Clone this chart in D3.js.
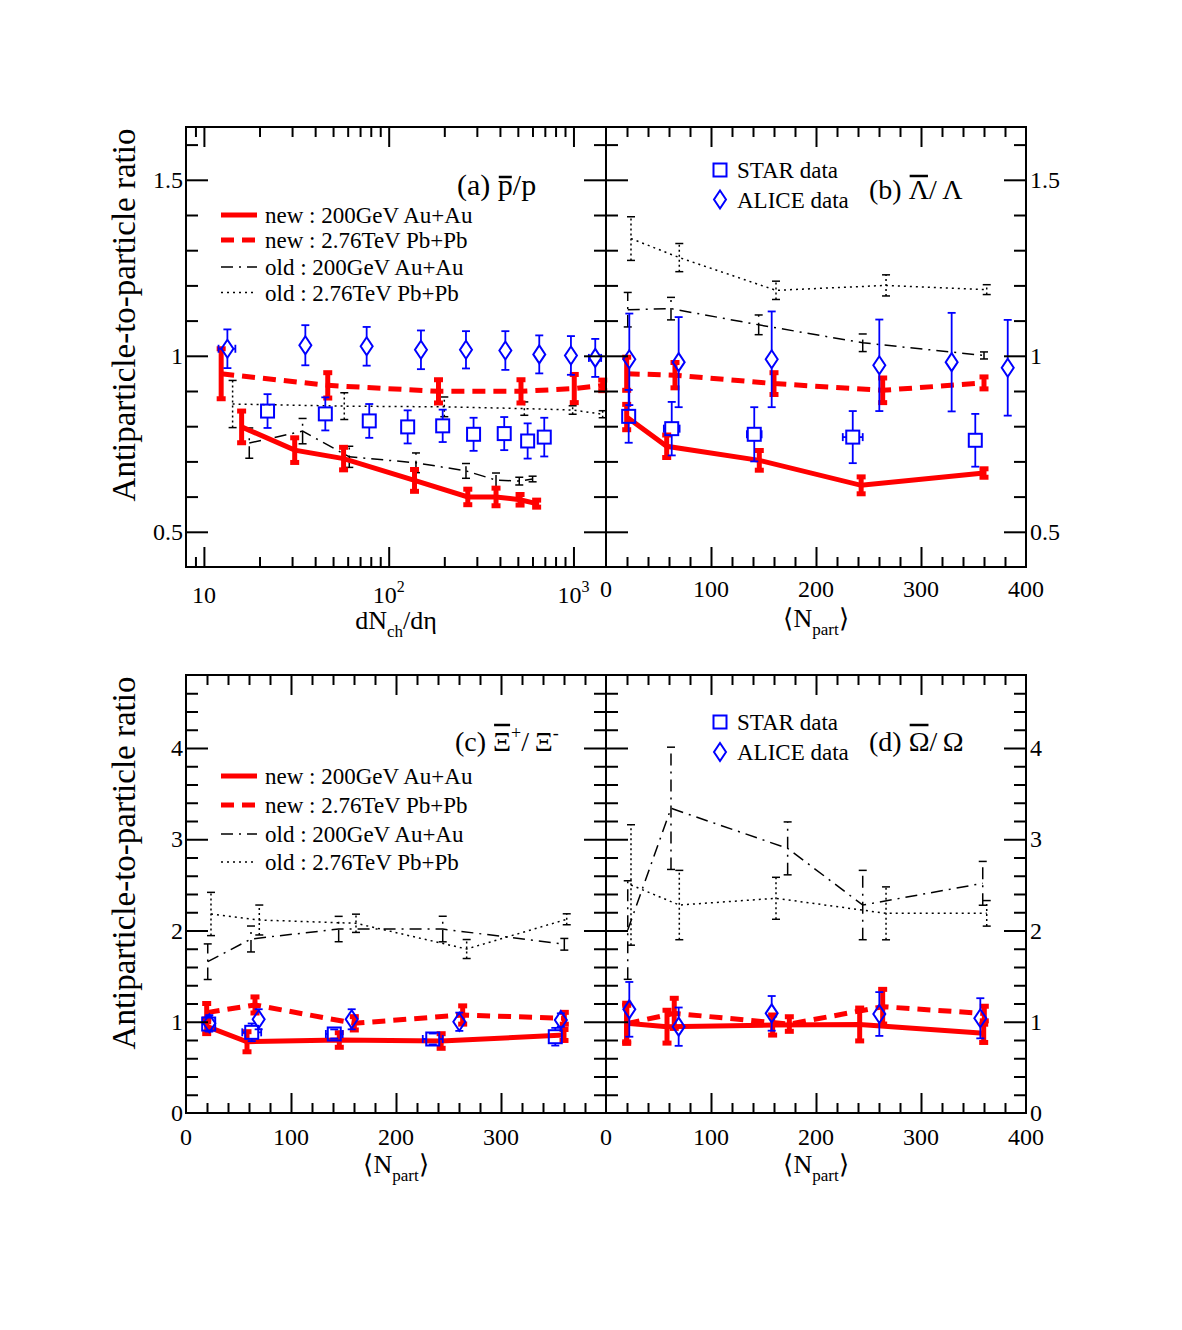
<!DOCTYPE html>
<html>
<head>
<meta charset="utf-8">
<script src="https://cdn.jsdelivr.net/npm/d3@7"></script>
<style>
  body { margin: 0; background: #fff; }
  svg text { font-family: "Liberation Serif", "Times New Roman", serif; fill: #000; }
</style>
</head>
<body>
<svg id="fig" width="1182" height="1330"></svg>
<script>
// each point: [x, ratio, ratio error, (optional) x error]

// (a) pbar/p vs dNch/deta
const aNew200 = [[16,0.798,0.045],[31,0.732,0.035],[57,0.708,0.032],[138,0.646,0.031],[268,0.599,0.022],[381,0.599,0.025],[514,0.591,0.015],[632,0.580,0.010]];
const aNew276 = [[12.4,0.949,0.071],[46.8,0.916,0.036],[186,0.899,0.033],[520,0.899,0.033],[1010,0.907,0.040],[1440,0.916,0.015]];
const aOld200 = [[17.6,0.752,0.043],[34.2,0.786,0.036],[61.2,0.713,0.030],[140.5,0.696,0.028],[262,0.673,0.021],[381,0.647,0.020],[509,0.644,0.011],[601,0.650,0.008]];
const aOld276 = [[14.3,0.863,0.067],[57.5,0.857,0.038],[200,0.855,0.028],[542,0.850,0.019],[990,0.846,0.012],[1439,0.834,0.010]];
const aStar   = [[22.1,0.843,0.048],[45.4,0.835,0.047],[78.5,0.815,0.048],[126.7,0.798,0.047],[196,0.801,0.046],[288,0.777,0.047],[422,0.779,0.047],[565,0.758,0.050],[695,0.769,0.055]];
const aAlice  = [[13.4,1.020,0.055,1.4],[35.4,1.030,0.057],[76,1.027,0.055],[149.5,1.017,0.055],[262,1.017,0.053],[428,1.015,0.055],[653,1.004,0.054],[969,1.001,0.055],[1312,0.994,0.054,100]];

// (b) Lambdabar/Lambda vs Npart
const bNew200 = [[19.7,0.826,0.036],[57.8,0.743,0.032],[146,0.703,0.028],[243,0.632,0.024],[360,0.667,0.012]];
const bNew276 = [[19.7,0.949,0.047],[65.7,0.945,0.036],[160,0.921,0.031],[263.5,0.902,0.035],[360,0.923,0.017]];
const bOld200 = [[20.7,1.131,0.049],[61.9,1.134,0.032],[145.4,1.088,0.028],[244.5,1.037,0.025],[360,1.001,0.010]];
const bOld276 = [[23.8,1.333,0.062],[69.8,1.279,0.040],[161.9,1.186,0.026],[266.7,1.200,0.030],[362.6,1.188,0.014]];
const bStar   = [[21.6,0.828,0.075],[62.6,0.793,0.076,7.5],[141.2,0.777,0.077,7],[235,0.769,0.074,9.5],[351.7,0.760,0.075]];
const bAlice  = [[22.2,0.990,0.130],[69.2,0.982,0.128],[157.8,0.990,0.136],[260.3,0.973,0.130],[329.2,0.982,0.140],[382.6,0.966,0.136]];

// (c) Xibar+/Xi- vs Npart
const cNew200 = [[19.7,0.950,0.080],[58.1,0.781,0.110],[146,0.800,0.080],[243,0.789,0.080],[360,0.855,0.060]];
const cNew276 = [[19.7,1.100,0.100],[65.7,1.184,0.088],[160.3,0.983,0.073],[263.5,1.074,0.100],[360.3,1.038,0.065]];
const cOld200 = [[20.7,1.658,0.195],[61.9,1.907,0.142],[145.4,2.016,0.139],[244.5,2.016,0.140],[360.3,1.849,0.064]];
const cOld276 = [[23.8,2.181,0.237],[69.8,2.115,0.164],[161.9,2.079,0.100],[267.3,1.797,0.104],[362.6,2.123,0.060]];
const cStar   = [[21.6,0.975,0.080],[62.6,0.884,0.097,9],[141.2,0.866,0.050,8],[235,0.811,0.060,9.5],[351.7,0.836,0.097]];
const cAlice  = [[22.2,0.983,0.090],[69.2,1.027,0.110],[157.8,1.027,0.110],[260.3,1.000,0.100],[357,1.019,0.073]];

// (d) Omegabar/Omega vs Npart
const dNew200 = [[19.7,0.983,0.220],[58.1,0.946,0.180],[158.7,0.964,0.110],[241.6,0.970,0.180],[359.7,0.873,0.100]];
const dNew276 = [[19.7,0.980,0.200],[65,1.092,0.165],[174.6,0.975,0.080],[263.5,1.165,0.190],[360.3,1.090,0.080]];
const dOld200 = [[20.7,2.005,0.540],[61.9,3.339,0.670],[173,2.900,0.290],[244.5,2.279,0.380],[358.8,2.517,0.240]];
const dOld276 = [[23.8,2.499,0.660],[69.8,2.279,0.380],[161.9,2.353,0.230],[266.7,2.188,0.290],[362.6,2.188,0.140]];
const dAlice  = [[22.2,1.136,0.300],[69.2,0.946,0.210],[157.8,1.092,0.190],[260.3,1.085,0.240],[356.5,1.038,0.220]];

const legendLines = ['new : 200GeV Au+Au', 'new : 2.76TeV Pb+Pb', 'old : 200GeV Au+Au', 'old : 2.76TeV Pb+Pb'];
const legendData  = ['STAR data', 'ALICE data'];

const svg = d3.select('#fig');
svg.append('rect').attr('width', 1182).attr('height', 1330).attr('fill', '#fff');

const L = 186, M = 606, R = 1026;
const T1 = 127, B1 = 567, T2 = 675, B2 = 1113;

const xLog = d3.scaleLog().domain([8, 1500]).range([L, M]);
const xB = d3.scaleLinear().domain([0, 400]).range([M, R]);
const xC = d3.scaleLinear().domain([0, 400]).range([L, M]);
const xD = d3.scaleLinear().domain([0, 400]).range([M, R]);
const yTop = d3.scaleLinear().domain([0.4, 1.65]).range([B1, T1]);
const yBot = d3.scaleLinear().domain([0, 4.8]).range([B2, T2]);

const RED = '#ff0000', BLUE = '#0000ff';
const STYLES = {
  new200: { color: RED, width: 5, dash: null, ew: 5, cap: 4.5, edash: null },
  new276: { color: RED, width: 5, dash: '13,8', ew: 5, cap: 4.5, edash: null },
  old200: { color: '#000', width: 1.5, dash: '12,6,2,6', ew: 1.5, cap: 4, edash: '12,6,2,6' },
  old276: { color: '#000', width: 1.5, dash: '2,4', ew: 1.5, cap: 4, edash: '2,3' }
};

// ---------- axes ----------
function range(a, b, s) { const out = []; for (let v = a; v <= b + 1e-9; v += s) out.push(+v.toFixed(6)); return out; }

function tickSet(g, axisFn, scale, vals, size, tr) {
  g.append('g').attr('transform', tr)
    .call(axisFn(scale).tickValues(vals).tickSize(-size).tickFormat(''))
    .call(s => s.select('.domain').remove())
    .call(s => s.selectAll('line').attr('stroke', '#000').attr('stroke-width', 2));
}

function frame(x, y, x0, x1, y0, y1, xMaj, xMin, yMaj, yMin) {
  const g = svg.append('g');
  [[d3.axisBottom, `translate(0,${y1})`], [d3.axisTop, `translate(0,${y0})`]].forEach(([fn, tr]) => {
    tickSet(g, fn, x, xMaj, 20, tr);
    tickSet(g, fn, x, xMin, 10, tr);
  });
  [[d3.axisLeft, `translate(${x0},0)`], [d3.axisRight, `translate(${x1},0)`]].forEach(([fn, tr]) => {
    tickSet(g, fn, y, yMaj, 22, tr);
    tickSet(g, fn, y, yMin, 12, tr);
  });
  g.append('rect').attr('x', x0).attr('y', y0).attr('width', x1 - x0).attr('height', y1 - y0)
    .attr('fill', 'none').attr('stroke', '#000').attr('stroke-width', 2);
}

const logMinor = [9, ...range(20, 90, 10), ...range(200, 900, 100)];
const nMinor = range(20, 380, 20).filter(v => v % 100 !== 0);
const yTopMinor = [0.6, 0.7, 0.8, 0.9, 1.1, 1.2, 1.3, 1.4, 1.6];
const yBotMinor = range(0.2, 4.6, 0.2).filter(v => Math.abs(v - Math.round(v)) > 1e-6);

// ---------- series ----------
function drawSeries(g, data, x, y, st) {
  g.append('path').datum(data)
    .attr('d', d3.line().x(d => x(d[0])).y(d => y(d[1])))
    .attr('fill', 'none').attr('stroke', st.color).attr('stroke-width', st.width)
    .attr('stroke-dasharray', st.dash);
  data.forEach(d => {
    const px = x(d[0]), lo = y(d[1] - d[2]), hi = y(d[1] + d[2]);
    g.append('line').attr('x1', px).attr('x2', px).attr('y1', lo).attr('y2', hi)
      .attr('stroke', st.color).attr('stroke-width', st.ew).attr('stroke-dasharray', st.edash);
    [lo, hi].forEach(yy => g.append('line')
      .attr('x1', px - st.cap).attr('x2', px + st.cap).attr('y1', yy).attr('y2', yy)
      .attr('stroke', st.color).attr('stroke-width', st.ew));
  });
}

function symbol(g, kind, px, py) {
  if (kind === 'square') {
    g.append('rect').attr('x', px - 6.5).attr('y', py - 6.5).attr('width', 13).attr('height', 13)
      .attr('fill', 'none').attr('stroke', BLUE).attr('stroke-width', 2);
  } else {
    g.append('path').attr('d', `M${px},${py - 9}L${px + 6},${py}L${px},${py + 9}L${px - 6},${py}Z`)
      .attr('fill', 'none').attr('stroke', BLUE).attr('stroke-width', 2);
  }
}

function drawData(g, data, x, y, kind) {
  const half = kind === 'square' ? 6.5 : 9;
  data.forEach(d => {
    const px = x(d[0]), py = y(d[1]), lo = y(d[1] - d[2]), hi = y(d[1] + d[2]);
    const ln = (x1, y1, x2, y2) => g.append('line').attr('x1', x1).attr('y1', y1).attr('x2', x2).attr('y2', y2)
      .attr('stroke', BLUE).attr('stroke-width', 1.8);
    if (lo > py + half) ln(px, py + half, px, lo);
    if (hi < py - half) ln(px, py - half, px, hi);
    ln(px - 4, lo, px + 4, lo);
    ln(px - 4, hi, px + 4, hi);
    if (d[3]) {
      const xl = x(d[0] - d[3]), xr = x(d[0] + d[3]);
      const hw = kind === 'square' ? 6.5 : 6;
      if (xl < px - hw) ln(xl, py, px - hw, py);
      if (xr > px + hw) ln(px + hw, py, xr, py);
      ln(xl, py - 4, xl, py + 4);
      ln(xr, py - 4, xr, py + 4);
    }
    symbol(g, kind, px, py);
  });
}

function panel(x, y, sets, star, alice) {
  const g = svg.append('g');
  drawSeries(g, sets.old276, x, y, STYLES.old276);
  drawSeries(g, sets.old200, x, y, STYLES.old200);
  drawSeries(g, sets.new276, x, y, STYLES.new276);
  drawSeries(g, sets.new200, x, y, STYLES.new200);
  if (star) drawData(g, star, x, y, 'square');
  if (alice) drawData(g, alice, x, y, 'diamond');
}

panel(xLog, yTop, { new200: aNew200, new276: aNew276, old200: aOld200, old276: aOld276 }, aStar, aAlice);
panel(xB, yTop, { new200: bNew200, new276: bNew276, old200: bOld200, old276: bOld276 }, bStar, bAlice);
panel(xC, yBot, { new200: cNew200, new276: cNew276, old200: cOld200, old276: cOld276 }, cStar, cAlice);
panel(xD, yBot, { new200: dNew200, new276: dNew276, old200: dOld200, old276: dOld276 }, null, dAlice);

frame(xLog, yTop, L, M, T1, B1, [10, 100, 1000], logMinor, [0.5, 1, 1.5], yTopMinor);
frame(xB, yTop, M, R, T1, B1, [100, 200, 300], nMinor, [0.5, 1, 1.5], yTopMinor);
frame(xC, yBot, L, M, T2, B2, [100, 200, 300], nMinor, [1, 2, 3, 4], yBotMinor);
frame(xD, yBot, M, R, T2, B2, [100, 200, 300], nMinor, [1, 2, 3, 4], yBotMinor);

// ---------- tick labels ----------
const FS = 24;
function label(x, y, txt, anchor, size) {
  return svg.append('text').attr('x', x).attr('y', y).attr('text-anchor', anchor || 'middle')
    .attr('font-size', size || FS).text(txt);
}
[[0.5, '0.5'], [1, '1'], [1.5, '1.5']].forEach(([v, t]) => {
  label(L - 3, yTop(v) + 8, t, 'end');
  label(R + 4, yTop(v) + 8, t, 'start');
});
[0, 1, 2, 3, 4].forEach(v => {
  label(L - 3, yBot(v) + 8, String(v), 'end');
  label(R + 4, yBot(v) + 8, String(v), 'start');
});
[[10, ''], [100, '2'], [1000, '3']].forEach(([v, e]) => {
  const t = label(xLog(v), 603, '10');
  if (e) t.append('tspan').attr('font-size', 16).attr('dy', -11).text(e);
});
[0, 100, 200, 300, 400].forEach(v => label(xB(v), 597, String(v)));
[0, 100, 200, 300].forEach(v => label(xC(v), 1145, String(v)));
[0, 100, 200, 300, 400].forEach(v => label(xD(v), 1145, String(v)));

// ---------- axis titles ----------
function npartTitle(cx, by) {
  const t = svg.append('text').attr('x', cx).attr('y', by).attr('text-anchor', 'middle').attr('font-size', 26);
  t.append('tspan').text('\u27E8N');
  t.append('tspan').attr('font-size', 17).attr('dy', 8).text('part');
  t.append('tspan').attr('dy', -8).text('\u27E9');
}
{
  const t = svg.append('text').attr('x', (L + M) / 2).attr('y', 629).attr('text-anchor', 'middle').attr('font-size', 26);
  t.append('tspan').text('dN');
  t.append('tspan').attr('font-size', 17).attr('dy', 8).text('ch');
  t.append('tspan').attr('dy', -8).text('/d\u03B7');
}
npartTitle((M + R) / 2, 627);
npartTitle((L + M) / 2, 1173);
npartTitle((M + R) / 2, 1173);

[315, 863].forEach(cy => svg.append('text')
  .attr('transform', `translate(135,${cy}) rotate(-90)`)
  .attr('text-anchor', 'middle').attr('font-size', 33)
  .text('Antiparticle-to-particle ratio'));

// ---------- panel titles ----------
function title(x0, y0, parts, ov, size) {
  const t = svg.append('text').attr('x', x0).attr('y', y0).attr('font-size', size || 28);
  parts.forEach(p => {
    const s = t.append('tspan').text(p.t);
    if (p.dy) s.attr('dy', p.dy);
    if (p.fs) s.attr('font-size', p.fs);
    if (p.ov) s.classed('ov', true);
  });
  t.selectAll('tspan.ov').each(function () {
    const a = this.getStartPositionOfChar(0), b = this.getEndPositionOfChar(0);
    svg.append('line').attr('x1', a.x + 1).attr('x2', b.x - 1)
      .attr('y1', y0 - ov).attr('y2', y0 - ov).attr('stroke', '#000').attr('stroke-width', 2.5);
  });
}
title(457, 195, [{ t: '(a) ' }, { t: 'p', ov: 1 }, { t: '/p' }], 18, 30);
title(869, 199, [{ t: '(b) ' }, { t: '\u039B', ov: 1 }, { t: '/\u2009\u039B' }], 23);
title(455, 751, [{ t: '(c) ' }, { t: '\u039E', ov: 1 }, { t: '+', fs: 18, dy: -12 }, { t: '/\u2009\u039E', dy: 12 }, { t: '-', fs: 18, dy: -12 }], 26);
title(869, 751, [{ t: '(d) ' }, { t: '\u03A9', ov: 1 }, { t: '/\u2009\u03A9' }], 26);

// ---------- legends ----------
function lineLegend(x0, rows) {
  const keys = ['new200', 'new276', 'old200', 'old276'];
  rows.forEach((ry, i) => {
    const st = STYLES[keys[i]];
    svg.append('line').attr('x1', x0).attr('x2', x0 + 36).attr('y1', ry).attr('y2', ry)
      .attr('stroke', st.color).attr('stroke-width', st.width).attr('stroke-dasharray', st.dash);
    label(x0 + 44, ry + 8, legendLines[i], 'start', 23);
  });
}
lineLegend(221, [215, 240, 267, 292.5]);
lineLegend(221, [776, 805, 834, 862]);

function dataLegend(rows) {
  ['square', 'diamond'].forEach((k, i) => {
    symbol(svg, k, 720, rows[i]);
    label(737, rows[i] + 8, legendData[i], 'start', 23);
  });
}
dataLegend([170, 199.5]);
dataLegend([722, 752]);
</script>
</body>
</html>
